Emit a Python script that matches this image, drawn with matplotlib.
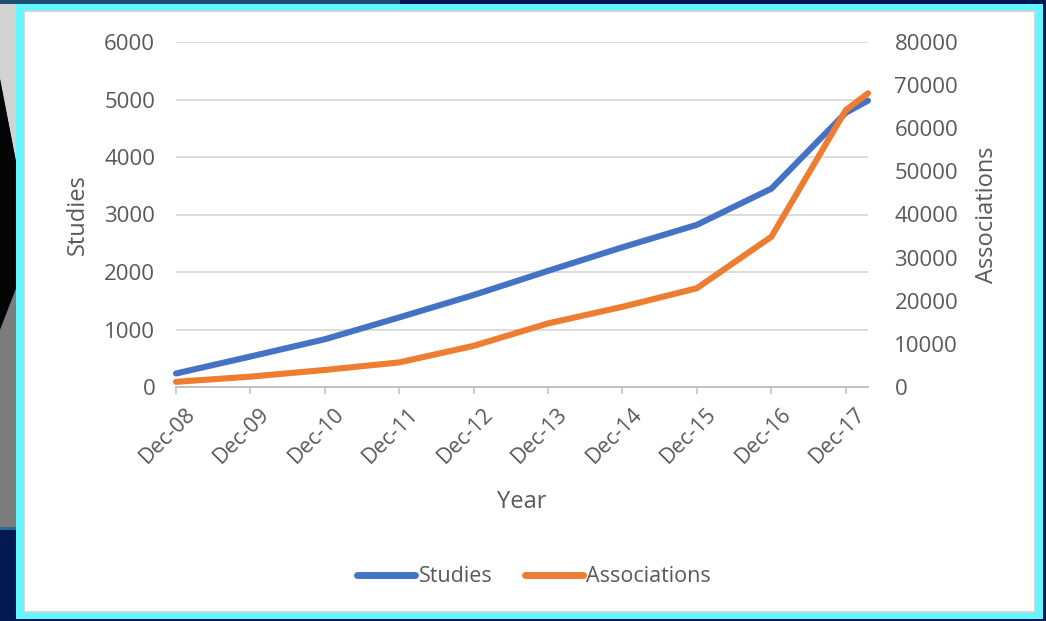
import matplotlib
matplotlib.use('Agg')
import matplotlib.pyplot as plt
import matplotlib.dates as mdates
from matplotlib.patches import Rectangle, Polygon
from matplotlib.lines import Line2D
from matplotlib.transforms import ScaledTranslation
from datetime import datetime

plt.rcParams['font.family'] = ['Open Sans', 'DejaVu Sans']

# data
dates = [datetime(2008, 12, 1), datetime(2009, 12, 1), datetime(2010, 12, 1),
         datetime(2011, 12, 1), datetime(2012, 12, 1), datetime(2013, 12, 1),
         datetime(2014, 12, 1), datetime(2015, 12, 1), datetime(2016, 12, 1),
         datetime(2017, 12, 1), datetime(2018, 3, 20)]
studies = [235, 530, 830, 1210, 1600, 2020, 2430, 2820, 3450, 4770, 4980]
associations = [1200, 2400, 3950, 5700, 9550, 14750, 18600, 22900, 34850, 64200, 68100]
tick_dates = dates[:10]

BLUE = '#4472C4'
ORANGE = '#ED7D31'
TXT = '#595959'
GRID = '#D9D9D9'

W, H = 1046, 621
fig = plt.figure(figsize=(W / 100, H / 100), dpi=100)
fig.patch.set_facecolor('#031852')


def box(x0, y0, x1, y1, **kw):
    # pixel box, origin top-left
    r = Rectangle((x0 / W, 1 - y1 / H), (x1 - x0) / W, (y1 - y0) / H,
                  transform=fig.transFigure, zorder=-10, **kw)
    fig.add_artist(r)


def poly(pts, **kw):
    p = Polygon([(x / W, 1 - y / H) for x, y in pts], closed=True,
                transform=fig.transFigure, zorder=-10, **kw)
    fig.add_artist(p)


# slide background bits on the left edge
box(0, 0, 400, 4, facecolor='#1d4f73', edgecolor='none')
poly([(0, 4), (17, 4), (17, 167), (0, 79)], facecolor='#d2d2d2', edgecolor='none')
poly([(0, 79), (17, 167), (17, 286), (0, 330)], facecolor='#050505', edgecolor='none')
poly([(0, 330), (17, 286), (17, 528), (0, 528)], facecolor='#7c7c7c', edgecolor='none')
box(0, 527, 17, 530, facecolor='#2a6a8a', edgecolor='none')

# cyan frame and white chart area
box(16, 4, 1043, 619, facecolor='#62F6FF', edgecolor='none')
box(24, 11, 1035, 612, facecolor='white', edgecolor='#cfcfcf', linewidth=1.2)

left, right, top, bottom = 176, 868, 42, 387
ax = fig.add_axes([left / W, 1 - bottom / H, (right - left) / W, (bottom - top) / H])
ax.set_facecolor('none')
ax2 = ax.twinx()
ax2.set_facecolor('none')

ax.plot(dates, studies, color=BLUE, lw=4.4, solid_capstyle='round',
        solid_joinstyle='round', clip_on=False, zorder=3)
ax2.plot(dates, associations, color=ORANGE, lw=4.4, solid_capstyle='round',
         solid_joinstyle='round', clip_on=False, zorder=3)

ax.set_xlim(dates[0], dates[-1])
ax.set_ylim(0, 6000)
ax2.set_ylim(0, 80000)
ax.set_yticks(range(0, 6001, 1000))
ax2.set_yticks(range(0, 80001, 10000))

ax.grid(axis='y', color=GRID, lw=1.3)
ax.set_axisbelow(True)

for a in (ax, ax2):
    for s in ('left', 'right', 'top'):
        a.spines[s].set_visible(False)
ax2.spines['bottom'].set_visible(False)
ax.spines['bottom'].set_color('#BFBFBF')
ax.spines['bottom'].set_linewidth(1.3)

ax.set_xticks(tick_dates)
ax.xaxis.set_major_formatter(mdates.DateFormatter('%b-%y'))
ax.tick_params(axis='x', direction='out', length=5, width=1.1, color='#BFBFBF',
               labelsize=15.5, labelcolor=TXT, pad=7)
for lab in ax.get_xticklabels():
    lab.set_rotation(45)
    lab.set_ha('right')
    lab.set_va('top')
    lab.set_rotation_mode('anchor')
    lab.set_transform(lab.get_transform() + ScaledTranslation(9 / 100, 0, fig.dpi_scale_trans))

ax.tick_params(axis='y', length=0, labelsize=16, labelcolor=TXT, pad=15)
ax2.tick_params(axis='y', length=0, labelsize=16, labelcolor=TXT, pad=19)

ax.set_ylabel('Studies', fontsize=17, color=TXT, va='center')
ax.yaxis.set_label_coords(-0.142, 0.5)
ax2.set_ylabel('Associations', fontsize=17, color=TXT, rotation=90, va='center')
ax2.yaxis.set_label_coords(1.172, 0.5)
ax.set_xlabel('Year', fontsize=17, color=TXT, va='center')
ax.xaxis.set_label_coords(0.5, -0.333)

handles = [Line2D([], [], color=BLUE, lw=5, solid_capstyle='round'),
           Line2D([], [], color=ORANGE, lw=5, solid_capstyle='round')]
leg = fig.legend(handles, ['Studies', 'Associations'], loc='center',
                 bbox_to_anchor=(534 / W, 1 - 577 / H), ncol=2, frameon=False,
                 fontsize=15.5, handlelength=2.7, handletextpad=0.15,
                 columnspacing=1.5, labelcolor=TXT)

fig.savefig('out.png', dpi=100, facecolor=fig.get_facecolor())
